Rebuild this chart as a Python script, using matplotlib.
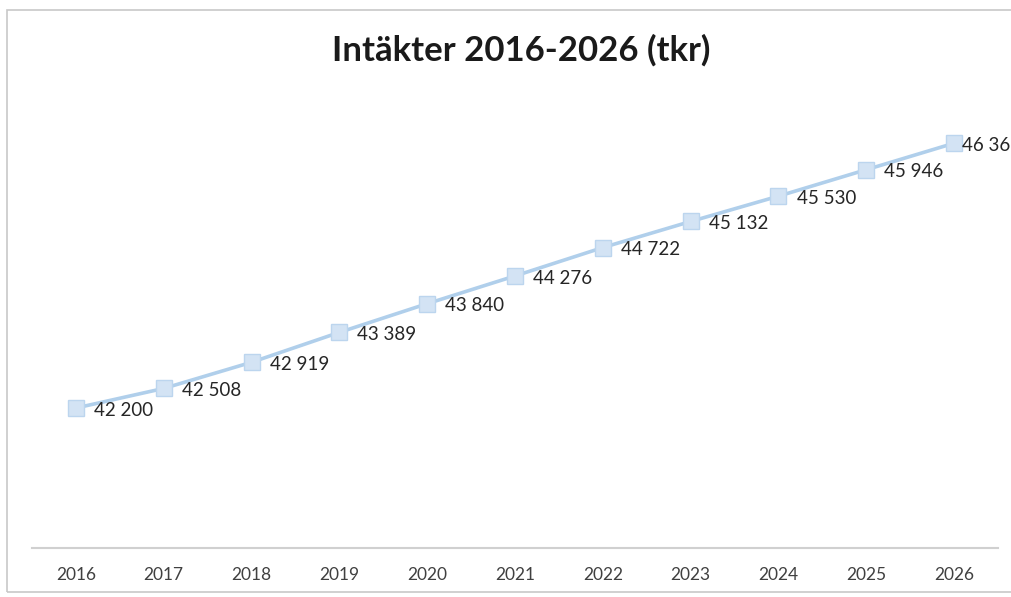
import matplotlib
matplotlib.use("Agg")
import matplotlib.pyplot as plt
from matplotlib.patches import Rectangle

years = ["2016", "2017", "2018", "2019", "2020", "2021", "2022", "2023", "2024", "2025", "2026"]
values = [42200, 42508, 42919, 43389, 43840, 44276, 44722, 45132, 45530, 45946, 46362]
labels = ["42 200", "42 508", "42 919", "43 389", "43 840", "44 276", "44 722", "45 132", "45 530", "45 946", "46 362"]
title = "Intäkter 2016-2026 (tkr)"

plt.rcParams['font.family'] = ['Lato', 'DejaVu Sans']
fig = plt.figure(figsize=(10.11, 5.97), dpi=100)
ax = fig.add_axes([32/1011, 1 - 548/597, 966/1011, (548 - 39)/597])

x = list(range(len(years)))
ax.plot(x, values, color="#b0cfeb", lw=2.6, marker="s", markersize=11.5,
        markerfacecolor="#d3e3f4", markeredgecolor="#bcd5ee", markeredgewidth=1.0, zorder=3)
for i, (xi, v, lab) in enumerate(zip(x, values, labels)):
    dx = 6 if i == len(x) - 1 else 13
    ax.annotate(lab, (xi, v), xytext=(dx, -1.5), textcoords="offset points",
                ha="left", va="center", fontsize=13.5, color="#262626", annotation_clip=False)

ax.set_xlim(-0.5, len(years) - 0.5)
ax.set_ylim(40000, 48000)
ax.set_xticks(x)
ax.set_xticklabels(years, fontsize=12.5, color="#404040")
ax.tick_params(axis="x", length=0, pad=14)
ax.set_yticks([])
for s in ["top", "right", "left"]:
    ax.spines[s].set_visible(False)
ax.spines["bottom"].set_color("#d0d0d0")
ax.spines["bottom"].set_linewidth(1.5)

fig.text(521/1011, 1 - 50/597, title, ha="center", va="center", fontsize=25,
         fontweight="bold", color="#1a1a1a")

fig.patches.append(Rectangle((7/1011, 1 - 592/597), 1.1, (592 - 10)/597, transform=fig.transFigure,
                             fill=False, edgecolor="#c8c8c8", lw=1.2, zorder=0))

fig.savefig("out.png", dpi=100)
